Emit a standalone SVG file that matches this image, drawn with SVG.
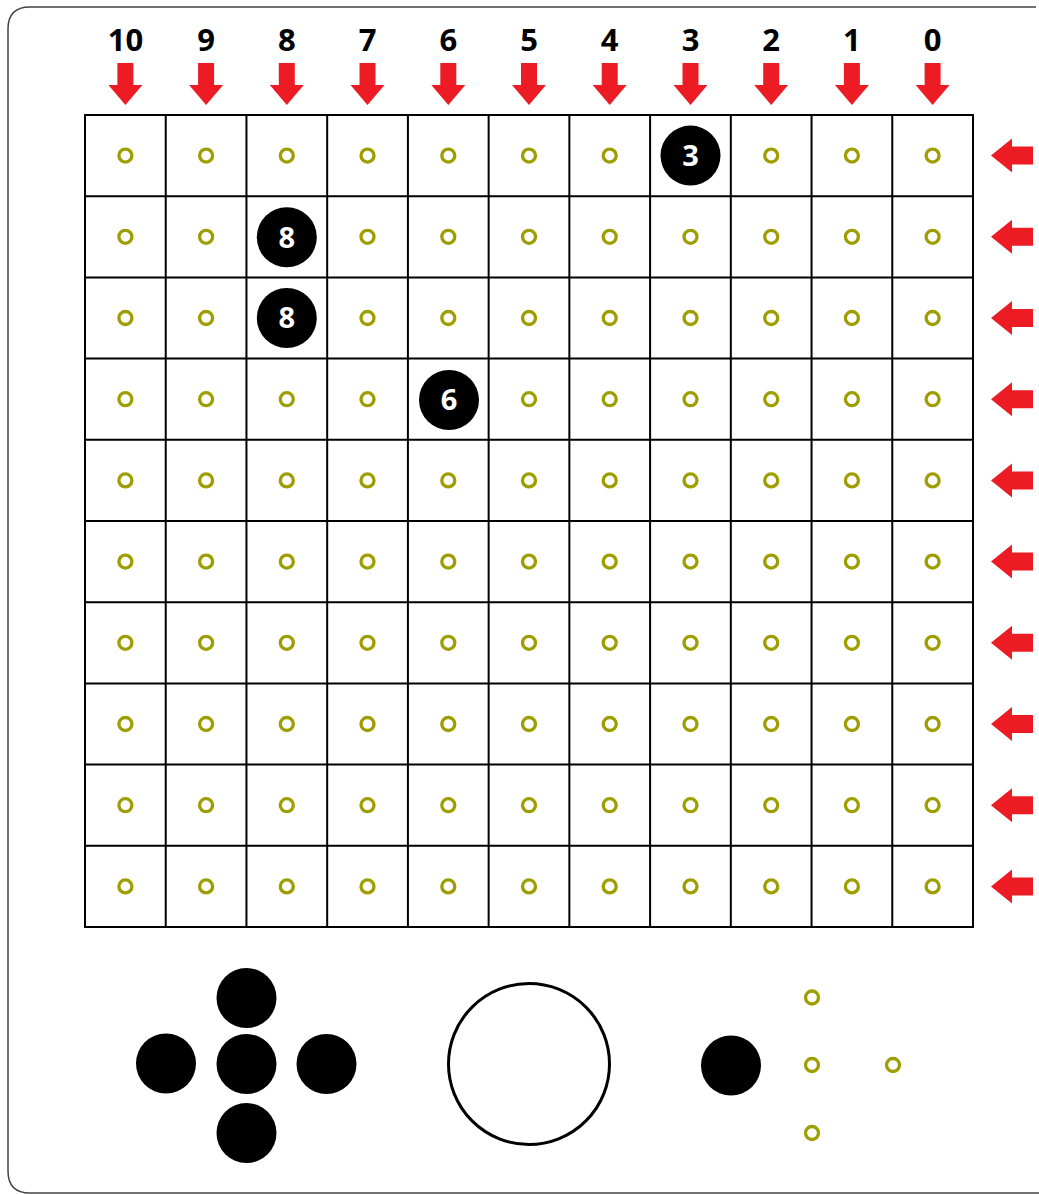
<svg xmlns="http://www.w3.org/2000/svg" xmlns:xlink="http://www.w3.org/1999/xlink" width="1039" height="1194" viewBox="0 0 1039 1194">
<style>
.lbl{font-family:"Open Sans","Liberation Sans",sans-serif;font-weight:bold;font-size:31px;fill:#000;text-anchor:middle}
.num{font-family:"Open Sans","Liberation Sans",sans-serif;font-weight:bold;font-size:29px;fill:#fff;text-anchor:middle}
.grid{stroke:#000;stroke-width:2;fill:none}
.ball{fill:#000}
</style>
<defs>
<circle id="ring" cx="0" cy="0" r="6.5" fill="none" stroke="#9e9e00" stroke-width="3.3"/>
<path id="down" d="M-8,0 H8 V22 H17 L0,42 L-17,22 H-8 Z" fill="#ed1c24"/>
<path id="left" d="M0,0 L21,-17 V-9 H42 V9 H21 V17 Z" fill="#ed1c24"/>
</defs>
<rect width="1039" height="1194" fill="#fff"/>
<path d="M1036,7 H30 Q8,7 8,29 V1171 Q8,1193 30,1193 H1039" fill="none" stroke="#444" stroke-width="1.5"/>

<g id="column-labels">
<text class="lbl" x="125.4" y="51">10</text>
<text class="lbl" x="206.1" y="51">9</text>
<text class="lbl" x="286.8" y="51">8</text>
<text class="lbl" x="367.5" y="51">7</text>
<text class="lbl" x="448.3" y="51">6</text>
<text class="lbl" x="529" y="51">5</text>
<text class="lbl" x="609.7" y="51">4</text>
<text class="lbl" x="690.5" y="51">3</text>
<text class="lbl" x="771.2" y="51">2</text>
<text class="lbl" x="851.9" y="51">1</text>
<text class="lbl" x="932.6" y="51">0</text>
</g>

<g id="arrows">
<use xlink:href="#down" href="#down" x="125.4" y="63"/>
<use xlink:href="#down" href="#down" x="206.1" y="63"/>
<use xlink:href="#down" href="#down" x="286.8" y="63"/>
<use xlink:href="#down" href="#down" x="367.5" y="63"/>
<use xlink:href="#down" href="#down" x="448.3" y="63"/>
<use xlink:href="#down" href="#down" x="529" y="63"/>
<use xlink:href="#down" href="#down" x="609.7" y="63"/>
<use xlink:href="#down" href="#down" x="690.5" y="63"/>
<use xlink:href="#down" href="#down" x="771.2" y="63"/>
<use xlink:href="#down" href="#down" x="851.9" y="63"/>
<use xlink:href="#down" href="#down" x="932.6" y="63"/>
<use xlink:href="#left" href="#left" x="991" y="155.6"/>
<use xlink:href="#left" href="#left" x="991" y="236.8"/>
<use xlink:href="#left" href="#left" x="991" y="318"/>
<use xlink:href="#left" href="#left" x="991" y="399.2"/>
<use xlink:href="#left" href="#left" x="991" y="480.4"/>
<use xlink:href="#left" href="#left" x="991" y="561.6"/>
<use xlink:href="#left" href="#left" x="991" y="642.8"/>
<use xlink:href="#left" href="#left" x="991" y="724"/>
<use xlink:href="#left" href="#left" x="991" y="805.2"/>
<use xlink:href="#left" href="#left" x="991" y="886.4"/>
</g>

<g id="grid" class="grid">
<rect x="85" y="115" width="888" height="812"/>
<path d="M165.73,115V927 M246.45,115V927 M327.18,115V927 M407.91,115V927 M488.64,115V927 M569.36,115V927 M650.09,115V927 M730.82,115V927 M811.55,115V927 M892.27,115V927"/>
<path d="M85,196.2H973 M85,277.4H973 M85,358.6H973 M85,439.8H973 M85,521H973 M85,602.2H973 M85,683.4H973 M85,764.6H973 M85,845.8H973"/>
</g>

<g id="holes">
<use href="#ring" x="125.4" y="155.6"/><use href="#ring" x="206.1" y="155.6"/><use href="#ring" x="286.8" y="155.6"/><use href="#ring" x="367.5" y="155.6"/><use href="#ring" x="448.3" y="155.6"/><use href="#ring" x="529" y="155.6"/><use href="#ring" x="609.7" y="155.6"/><use href="#ring" x="771.2" y="155.6"/><use href="#ring" x="851.9" y="155.6"/><use href="#ring" x="932.6" y="155.6"/>
<use href="#ring" x="125.4" y="236.8"/><use href="#ring" x="206.1" y="236.8"/><use href="#ring" x="367.5" y="236.8"/><use href="#ring" x="448.3" y="236.8"/><use href="#ring" x="529" y="236.8"/><use href="#ring" x="609.7" y="236.8"/><use href="#ring" x="690.5" y="236.8"/><use href="#ring" x="771.2" y="236.8"/><use href="#ring" x="851.9" y="236.8"/><use href="#ring" x="932.6" y="236.8"/>
<use href="#ring" x="125.4" y="318"/><use href="#ring" x="206.1" y="318"/><use href="#ring" x="367.5" y="318"/><use href="#ring" x="448.3" y="318"/><use href="#ring" x="529" y="318"/><use href="#ring" x="609.7" y="318"/><use href="#ring" x="690.5" y="318"/><use href="#ring" x="771.2" y="318"/><use href="#ring" x="851.9" y="318"/><use href="#ring" x="932.6" y="318"/>
<use href="#ring" x="125.4" y="399.2"/><use href="#ring" x="206.1" y="399.2"/><use href="#ring" x="286.8" y="399.2"/><use href="#ring" x="367.5" y="399.2"/><use href="#ring" x="529" y="399.2"/><use href="#ring" x="609.7" y="399.2"/><use href="#ring" x="690.5" y="399.2"/><use href="#ring" x="771.2" y="399.2"/><use href="#ring" x="851.9" y="399.2"/><use href="#ring" x="932.6" y="399.2"/>
<use href="#ring" x="125.4" y="480.4"/><use href="#ring" x="206.1" y="480.4"/><use href="#ring" x="286.8" y="480.4"/><use href="#ring" x="367.5" y="480.4"/><use href="#ring" x="448.3" y="480.4"/><use href="#ring" x="529" y="480.4"/><use href="#ring" x="609.7" y="480.4"/><use href="#ring" x="690.5" y="480.4"/><use href="#ring" x="771.2" y="480.4"/><use href="#ring" x="851.9" y="480.4"/><use href="#ring" x="932.6" y="480.4"/>
<use href="#ring" x="125.4" y="561.6"/><use href="#ring" x="206.1" y="561.6"/><use href="#ring" x="286.8" y="561.6"/><use href="#ring" x="367.5" y="561.6"/><use href="#ring" x="448.3" y="561.6"/><use href="#ring" x="529" y="561.6"/><use href="#ring" x="609.7" y="561.6"/><use href="#ring" x="690.5" y="561.6"/><use href="#ring" x="771.2" y="561.6"/><use href="#ring" x="851.9" y="561.6"/><use href="#ring" x="932.6" y="561.6"/>
<use href="#ring" x="125.4" y="642.8"/><use href="#ring" x="206.1" y="642.8"/><use href="#ring" x="286.8" y="642.8"/><use href="#ring" x="367.5" y="642.8"/><use href="#ring" x="448.3" y="642.8"/><use href="#ring" x="529" y="642.8"/><use href="#ring" x="609.7" y="642.8"/><use href="#ring" x="690.5" y="642.8"/><use href="#ring" x="771.2" y="642.8"/><use href="#ring" x="851.9" y="642.8"/><use href="#ring" x="932.6" y="642.8"/>
<use href="#ring" x="125.4" y="724"/><use href="#ring" x="206.1" y="724"/><use href="#ring" x="286.8" y="724"/><use href="#ring" x="367.5" y="724"/><use href="#ring" x="448.3" y="724"/><use href="#ring" x="529" y="724"/><use href="#ring" x="609.7" y="724"/><use href="#ring" x="690.5" y="724"/><use href="#ring" x="771.2" y="724"/><use href="#ring" x="851.9" y="724"/><use href="#ring" x="932.6" y="724"/>
<use href="#ring" x="125.4" y="805.2"/><use href="#ring" x="206.1" y="805.2"/><use href="#ring" x="286.8" y="805.2"/><use href="#ring" x="367.5" y="805.2"/><use href="#ring" x="448.3" y="805.2"/><use href="#ring" x="529" y="805.2"/><use href="#ring" x="609.7" y="805.2"/><use href="#ring" x="690.5" y="805.2"/><use href="#ring" x="771.2" y="805.2"/><use href="#ring" x="851.9" y="805.2"/><use href="#ring" x="932.6" y="805.2"/>
<use href="#ring" x="125.4" y="886.4"/><use href="#ring" x="206.1" y="886.4"/><use href="#ring" x="286.8" y="886.4"/><use href="#ring" x="367.5" y="886.4"/><use href="#ring" x="448.3" y="886.4"/><use href="#ring" x="529" y="886.4"/><use href="#ring" x="609.7" y="886.4"/><use href="#ring" x="690.5" y="886.4"/><use href="#ring" x="771.2" y="886.4"/><use href="#ring" x="851.9" y="886.4"/><use href="#ring" x="932.6" y="886.4"/>
</g>

<g id="ball-3"><circle class="ball" cx="690.5" cy="155.6" r="30"/><text class="num" x="690.5" y="166">3</text></g>
<g id="ball-8a"><circle class="ball" cx="286.8" cy="237.3" r="30"/><text class="num" x="286.8" y="247.7">8</text></g>
<g id="ball-8b"><circle class="ball" cx="286.8" cy="318" r="30"/><text class="num" x="286.8" y="328.4">8</text></g>
<g id="ball-6"><circle class="ball" cx="449" cy="400" r="30"/><text class="num" x="449" y="410.4">6</text></g>

<g id="dpad">
<circle class="ball" cx="246.5" cy="998" r="30"/>
<circle class="ball" cx="166" cy="1063.5" r="30"/>
<circle class="ball" cx="246.5" cy="1064" r="30"/>
<circle class="ball" cx="326.5" cy="1064" r="30"/>
<circle class="ball" cx="246.5" cy="1133" r="30"/>
</g>

<g id="big-button"><circle cx="529" cy="1064" r="80.5" fill="none" stroke="#000" stroke-width="3"/></g>
<g id="right-ball"><circle class="ball" cx="731" cy="1065.5" r="30"/></g>
<g id="small-holes">
<use href="#ring" x="812" y="997.5"/>
<use href="#ring" x="812" y="1065"/>
<use href="#ring" x="893" y="1065"/>
<use href="#ring" x="812" y="1133"/>
</g>
</svg>
